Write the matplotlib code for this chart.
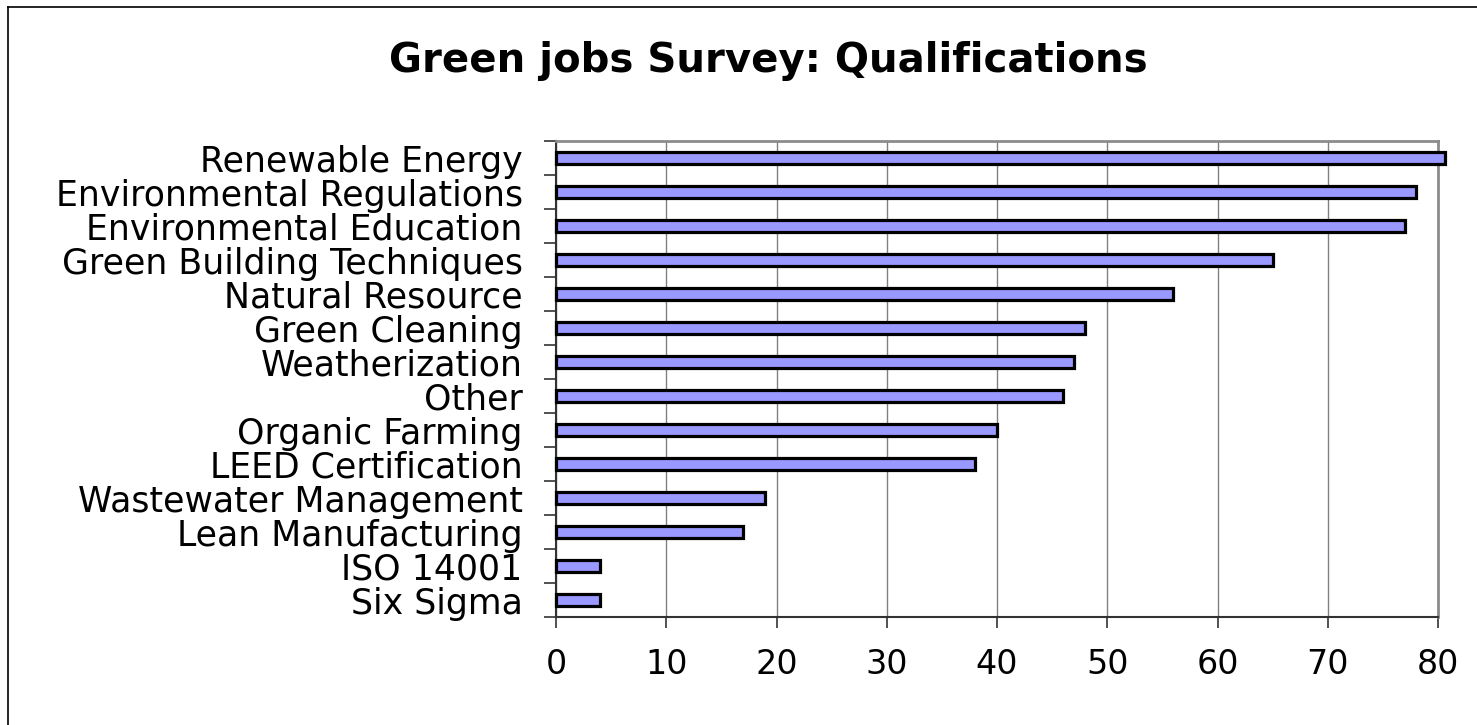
import matplotlib.pyplot as plt
from matplotlib.lines import Line2D

# data
categories = ['Renewable Energy', 'Environmental Regulations', 'Environmental Education',
              'Green Building Techniques', 'Natural Resource', 'Green Cleaning',
              'Weatherization', 'Other', 'Organic Farming', 'LEED Certification',
              'Wastewater Management', 'Lean Manufacturing', 'ISO 14001', 'Six Sigma']
values = [80.6, 78, 77, 65, 56, 48, 47, 46, 40, 38, 19, 17, 4, 4]
x_ticks = [0, 10, 20, 30, 40, 50, 60, 70, 80]

plt.rcParams['font.family'] = ['DejaVu Sans']

fig = plt.figure(figsize=(14.77, 7.25), dpi=100)
ax = fig.add_axes([556 / 1477, 1 - 617 / 725, (1438 - 556) / 1477, (617 - 141) / 725])

y_pos = list(range(len(categories)))
ax.barh(y_pos, values, height=0.36, color='#9999FF', edgecolor='black',
        linewidth=2.3, zorder=3, clip_on=False)

ax.set_xlim(0, 80)
ax.set_ylim(len(categories) - 0.5, -0.5)

# gridlines
ax.set_xticks(x_ticks)
ax.xaxis.grid(True, color='#808080', linewidth=1, zorder=0)
ax.set_axisbelow(True)

# y labels in the middle, ticks between categories
ax.set_yticks(y_pos)
ax.set_yticklabels(categories, fontsize=25)
ax.set_yticks([i - 0.5 for i in range(len(categories) + 1)], minor=True)
ax.tick_params(axis='y', which='major', length=0, pad=24)
ax.tick_params(axis='y', which='minor', length=9, width=1.2, color='#333333', direction='out')
ax.tick_params(axis='x', which='major', length=8, width=1.2, color='#333333',
               labelsize=24, pad=14)

# spines
for side in ['top', 'right']:
    ax.spines[side].set_color('#8c8c8c')
    ax.spines[side].set_linewidth(2)
for side in ['left', 'bottom']:
    ax.spines[side].set_color('#333333')
    ax.spines[side].set_linewidth(1.5)

# title
fig.text(768 / 1477, 1 - 72 / 725, 'Green jobs Survey: Qualifications',
         fontsize=29, fontweight='bold', ha='center', va='baseline')

# outer frame (left and top edges visible)
fig.add_artist(Line2D([8 / 1477, 8 / 1477], [0, 1 - 7 / 725], color='black', linewidth=1.2))
fig.add_artist(Line2D([8 / 1477, 1], [1 - 7 / 725, 1 - 7 / 725], color='black', linewidth=1.2))

fig.savefig('out.png', dpi=100)
